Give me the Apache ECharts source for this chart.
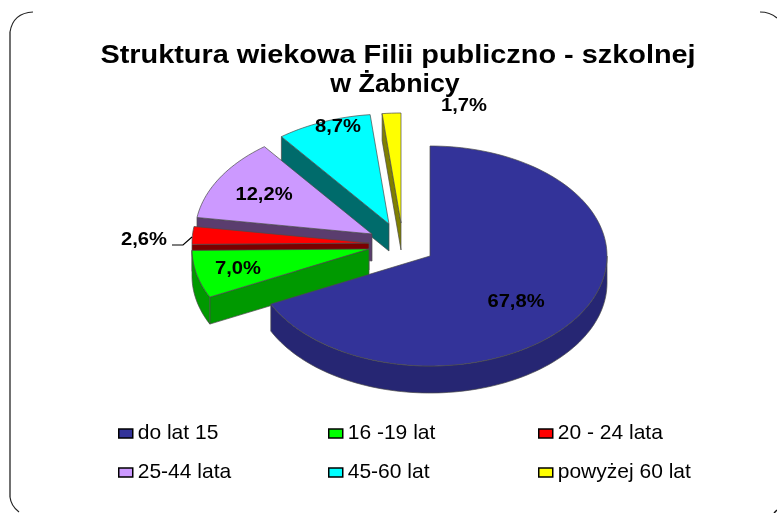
<!DOCTYPE html>
<html>
<head>
<meta charset="utf-8">
<style>html,body{margin:0;padding:0;background:#fff}#c{width:777px;height:513px}</style>
<script src="https://cdn.jsdelivr.net/npm/echarts@6/dist/echarts.min.js"></script>
</head>
<body>
<div id="c"></div>
<script>
const categories = ['do lat 15', '16 -19 lat', '20 - 24 lata', '25-44 lata', '45-60 lat', 'powyżej 60 lat'];
const values = [67.8, 7.0, 2.6, 12.2, 8.7, 1.7];
const valueLabels = ['67,8%', '7,0%', '2,6%', '12,2%', '8,7%', '1,7%'];
const titleLines = ['Struktura wiekowa Filii publiczno - szkolnej', 'w Żabnicy'];

// styling and layout, separate from the data
const topColors = ['#333399', '#00FF00', '#FF0000', '#CC99FF', '#00FFFF', '#FFFF00'];
const wallColors = ['#262673', '#009900', '#7A0000', '#5A3D6E', '#006B6B', '#808000'];
const apexes = [[430, 256], [369, 249], [369, 243], [372, 234], [389, 224], [401, 223]];
const labelCenters = [[516, 302], [238, 269], [144, 240], [264, 195], [338, 127], [464, 106]];
const drawRank = [6, 5, 4, 3, 2, 1];
const RX = 177, RY = 110, DEPTH = 27;
const total = values.reduce((a, b) => a + b, 0);

function arcPts(c, a0, a1, dy) {
  const n = Math.max(2, Math.ceil((a1 - a0) / 0.03)), out = [];
  for (let i = 0; i <= n; i++) {
    const a = a0 + (a1 - a0) * i / n;
    out.push([c[0] + RX * Math.sin(a), c[1] - RY * Math.cos(a) + dy]);
  }
  return out;
}
function makeRender(idx) {
  return function () {
    let before = 0;
    for (let i = 0; i < idx; i++) before += values[i];
    const a0 = before / total * 2 * Math.PI;
    const a1 = (before + values[idx]) / total * 2 * Math.PI;
    const c = apexes[idx];
    const stroke = '#4A4A4A';
    const style = (fill) => ({ fill, stroke, lineWidth: 0.7 });
    const kids = [];
    const wall = (a) => {
      const p = [c[0] + RX * Math.sin(a), c[1] - RY * Math.cos(a)];
      kids.push({ type: 'polygon', shape: { points: [c, p, [p[0], p[1] + DEPTH], [c[0], c[1] + DEPTH]] }, style: style(wallColors[idx]) });
    };
    if (Math.sin(a0) < 0) wall(a0);
    if (Math.sin(a1) > 0) wall(a1);
    const w0 = Math.max(a0, Math.PI / 2), w1 = Math.min(a1, 3 * Math.PI / 2);
    if (w1 - w0 > 0.05) {
      const top = arcPts(c, w0, w1, 0), bot = arcPts(c, w0, w1, DEPTH).reverse();
      kids.push({ type: 'polygon', shape: { points: top.concat(bot) }, style: style(wallColors[idx]) });
    }
    kids.push({ type: 'polygon', shape: { points: [c].concat(arcPts(c, a0, a1, 0)) }, style: style(topColors[idx]) });
    return { type: 'group', children: kids };
  };
}

const series = categories.map((name, i) => ({
  type: 'custom',
  name,
  coordinateSystem: 'none',
  z: 2 + drawRank[i],
  silent: true,
  data: [values[i]],
  itemStyle: { color: topColors[i], borderColor: '#000', borderWidth: 1.5 },
  renderItem: makeRender(i)
}));

const legendBase = {
  orient: 'vertical', itemWidth: 14, itemHeight: 9, itemGap: 18, top: 423, padding: 0,
  icon: 'rect', selectedMode: false,
  textStyle: { fontFamily: 'Liberation Sans', fontSize: 21, color: '#000', padding: [0, 0, 0, 0] }
};
const legendItem = (i) => ({ name: categories[i], itemStyle: { color: topColors[i], borderColor: '#000', borderWidth: 1.5 } });

const labelGraphics = valueLabels.map((t, i) => ({
  type: 'text', x: labelCenters[i][0], y: labelCenters[i][1], z: 100, scaleX: 1.12,
  style: { text: t, fill: '#000', font: 'bold 18px "Liberation Sans"', align: 'center', verticalAlign: 'middle' }
}));
const titleGraphics = titleLines.map((t, i) => ({
  type: 'text', x: i ? 395 : 398, y: 56 + i * 29, z: 100, scaleX: i ? 1.07 : 1.155,
  style: { text: t, fill: '#000', font: 'bold 25px "Liberation Sans"', align: 'center', verticalAlign: 'middle' }
}));
const curve = (x1, y1, cx, cy, x2, y2) => ({
  type: 'bezierCurve', z: 90,
  shape: { x1, y1, x2, y2, cpx1: cx, cpy1: cy },
  style: { stroke: '#222', lineWidth: 1.2, fill: null }
});

const chart = echarts.init(document.getElementById('c'), null, { renderer: 'canvas' });
chart.setOption({
  animation: false,
  backgroundColor: '#fff',
  legend: [
    Object.assign({}, legendBase, { left: 118, data: [legendItem(0), legendItem(3)] }),
    Object.assign({}, legendBase, { left: 328, data: [legendItem(1), legendItem(4)] }),
    Object.assign({}, legendBase, { left: 538, data: [legendItem(2), legendItem(5)] })
  ],
  series,
  graphic: titleGraphics.concat(labelGraphics, [
    { type: 'polyline', z: 90, shape: { points: [[172, 245], [183, 245], [192, 237]] }, style: { stroke: '#000', lineWidth: 1.2, fill: null } },
    curve(33, 12, 13, 13, 10, 32),
    { type: 'line', z: 90, shape: { x1: 10, y1: 32, x2: 10, y2: 497 }, style: { stroke: '#111', lineWidth: 1.2 } },
    curve(10, 497, 11, 506, 19, 512),
    curve(760, 12, 770, 12, 777, 18),
    { type: 'line', z: 90, shape: { x1: 774, y1: 513, x2: 777, y2: 510 }, style: { stroke: '#111', lineWidth: 1.5 } }
  ])
});
</script>
</body>
</html>
